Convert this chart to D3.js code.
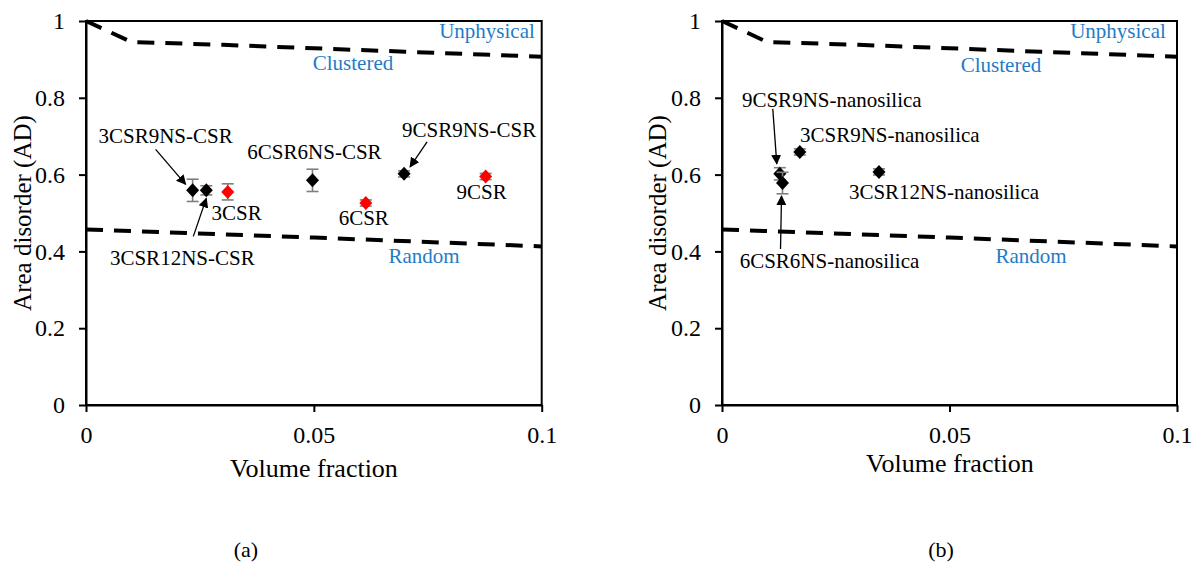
<!DOCTYPE html>
<html lang="en">

<head>
    <meta charset="UTF-8">
    <title>Area disorder</title>
    <style>
        body {
            margin: 0;
            background: #fff;
        }
    </style>
</head>

<body>
    <div id="wrapper"></div>

    <script src="https://d3js.org/d3.v7.min.js"></script>
    <script>
        // axis ticks
        const xTicks = [0, 0.05, 0.1];
        const yTicks = [0, 0.2, 0.4, 0.6, 0.8, 1];

        // boundary curves (same in both panels)
        const clusteredX = [0, 0.01, 0.03, 0.05, 0.07, 0.1];
        const clusteredY = [1, 0.945, 0.938, 0.929, 0.92, 0.907];
        const randomX = [0, 0.05, 0.1];
        const randomY = [0.457, 0.436, 0.413];

        // panel (a)
        const namesA = ['3CSR9NS-CSR', '3CSR12NS-CSR', '3CSR', '6CSR6NS-CSR', '6CSR', '9CSR9NS-CSR', '9CSR'];
        const volA = [0.0234, 0.0264, 0.0311, 0.0497, 0.0614, 0.0698, 0.0877];
        const adA = [0.559, 0.559, 0.555, 0.585, 0.526, 0.602, 0.595];
        const errA = [0.029, 0.012, 0.021, 0.029, 0.008, 0.008, 0.008];
        const hybridA = [true, true, false, true, false, true, false];

        // panel (b)
        const namesB = ['9CSR9NS-nanosilica', '6CSR6NS-nanosilica', '3CSR9NS-nanosilica', '3CSR12NS-nanosilica'];
        const volB = [0.0127, 0.0133, 0.0171, 0.0345];
        const adB = [0.602, 0.578, 0.659, 0.607];
        const errB = [0.016, 0.028, 0.008, 0.008];
        const hybridB = [true, true, true, true];

        const FONT = 'Liberation Serif';

        const svg = d3.select('#wrapper').append('svg')
            .attr('width', 1197)
            .attr('height', 565);

        svg.append('rect').attr('width', 1197).attr('height', 565).attr('fill', '#fff');

        const defs = svg.append('defs');
        defs.append('marker')
            .attr('id', 'arrow')
            .attr('viewBox', '0 0 10 10')
            .attr('refX', 9).attr('refY', 5)
            .attr('markerWidth', 10).attr('markerHeight', 10)
            .attr('markerUnits', 'userSpaceOnUse')
            .attr('orient', 'auto')
            .append('path').attr('d', 'M0,0 L10,5 L0,10 Z').attr('fill', '#000');

        const blue = '#1f7bc8';

        // layout of each panel (pixels): label offsets from their point, arrows [i,x1,y1,x2,y2] from point
        const panels = [{
            left: 86, right: 541.7, top: 21, bottom: 405,
            names: namesA, xs: volA, ys: adA, errs: errA, hyb: hybridA,
            labelOff: [[-27, -47], [-24, 75], [9, 28], [2, -21], [-2, 22], [65, -37], [-4, 22]],
            arrows: [[0, -37, -41, -7, -6], [1, -13, 46, 0, 8], [5, 23, -32, 6, -7]],
            unphys: [487, 38], clustered: [353, 70], random: [424, 263],
            xTitle: [314, 477], yTitle: [31, 213], caption: [246, 557], tag: '(a)'
        }, {
            left: 722, right: 1177, top: 21, bottom: 405,
            names: namesB, xs: volB, ys: adB, errs: errB, hyb: hybridB,
            labelOff: [[52, -67], [47, 85], [90, -10], [65, 27]],
            arrows: [[0, -7, -65, -3, -10], [1, -2, 66, -1, 13]],
            unphys: [1118, 38], clustered: [1001, 72], random: [1031, 263],
            xTitle: [950, 472], yTitle: [666, 213], caption: [941, 557], tag: '(b)'
        }];

        function txt(g, x, y, size, s) {
            return g.append('text')
                .attr('x', x).attr('y', y)
                .attr('text-anchor', 'middle')
                .attr('font-size', size)
                .style('font-family', FONT)
                .text(s);
        }

        function drawPanel(p) {
            const x = d3.scaleLinear().domain([0, 0.1]).range([p.left, p.right]);
            const y = d3.scaleLinear().domain([0, 1]).range([p.bottom, p.top]);
            const g = svg.append('g');

            // boundary lines
            const line = d3.line().x(d => x(d[0])).y(d => y(d[1]));
            [[clusteredX, clusteredY], [randomX, randomY]].forEach(([xs, ys]) => {
                g.append('path')
                    .attr('d', line(xs.map((v, i) => [v, ys[i]])))
                    .attr('fill', 'none')
                    .attr('stroke', '#000')
                    .attr('stroke-width', 4)
                    .attr('stroke-dasharray', '17,11');
            });

            // frame
            g.append('rect')
                .attr('x', p.left).attr('y', p.top)
                .attr('width', p.right - p.left).attr('height', p.bottom - p.top)
                .attr('fill', 'none').attr('stroke', '#000').attr('stroke-width', 2);

            // axes
            const yAxis = g.append('g').attr('transform', `translate(${p.left},0)`)
                .call(d3.axisLeft(y).tickValues(yTicks).tickFormat(d => String(d)).tickSize(7).tickSizeOuter(0).tickPadding(14));
            const xAxis = g.append('g').attr('transform', `translate(0,${p.bottom})`)
                .call(d3.axisBottom(x).tickValues(xTicks).tickFormat(d => String(d)).tickSize(7).tickSizeOuter(0).tickPadding(14));
            [xAxis, yAxis].forEach(a => {
                a.attr('font-family', FONT);
                a.select('.domain').attr('stroke-width', 2);
                a.selectAll('.tick line').attr('stroke-width', 2);
                a.selectAll('text').attr('font-size', 24).attr('fill', '#000')
                    .style('font-family', FONT);
            });

            // error bars and markers
            p.xs.forEach((v, i) => {
                const cx = x(v), cy = y(p.ys[i]);
                const t = y(p.ys[i] + p.errs[i]), b = y(p.ys[i] - p.errs[i]);
                const eb = g.append('g').attr('stroke', '#7f7f7f').attr('stroke-width', 1.6);
                eb.append('line').attr('x1', cx).attr('x2', cx).attr('y1', t).attr('y2', b);
                eb.append('line').attr('x1', cx - 6).attr('x2', cx + 6).attr('y1', t).attr('y2', t);
                eb.append('line').attr('x1', cx - 6).attr('x2', cx + 6).attr('y1', b).attr('y2', b);
                g.append('path')
                    .attr('d', `M${cx},${cy - 7}L${cx + 6.5},${cy}L${cx},${cy + 7}L${cx - 6.5},${cy}Z`)
                    .attr('fill', p.hyb[i] ? '#000' : '#ff0000');
            });

            // point labels
            p.names.forEach((n, i) => {
                txt(g, x(p.xs[i]) + p.labelOff[i][0], y(p.ys[i]) + p.labelOff[i][1], 21, n);
            });

            // arrows
            p.arrows.forEach(([i, x1, y1, x2, y2]) => {
                const cx = x(p.xs[i]), cy = y(p.ys[i]);
                g.append('line')
                    .attr('x1', cx + x1).attr('y1', cy + y1)
                    .attr('x2', cx + x2).attr('y2', cy + y2)
                    .attr('stroke', '#000').attr('stroke-width', 1.3)
                    .attr('marker-end', 'url(#arrow)');
            });

            // region labels
            [['Unphysical', p.unphys], ['Clustered', p.clustered], ['Random', p.random]].forEach(([t, pos]) => {
                txt(g, pos[0], pos[1], 21, t).attr('fill', blue);
            });

            // titles
            txt(g, p.xTitle[0], p.xTitle[1], 26, 'Volume fraction');
            g.append('text')
                .attr('transform', `translate(${p.yTitle[0]},${p.yTitle[1]}) rotate(-90)`)
                .attr('text-anchor', 'middle').attr('font-size', 25)
                .style('font-family', FONT)
                .text('Area disorder (AD)');
            txt(g, p.caption[0], p.caption[1], 22, p.tag);
        }

        panels.forEach(drawPanel);
    </script>
</body>

</html>
